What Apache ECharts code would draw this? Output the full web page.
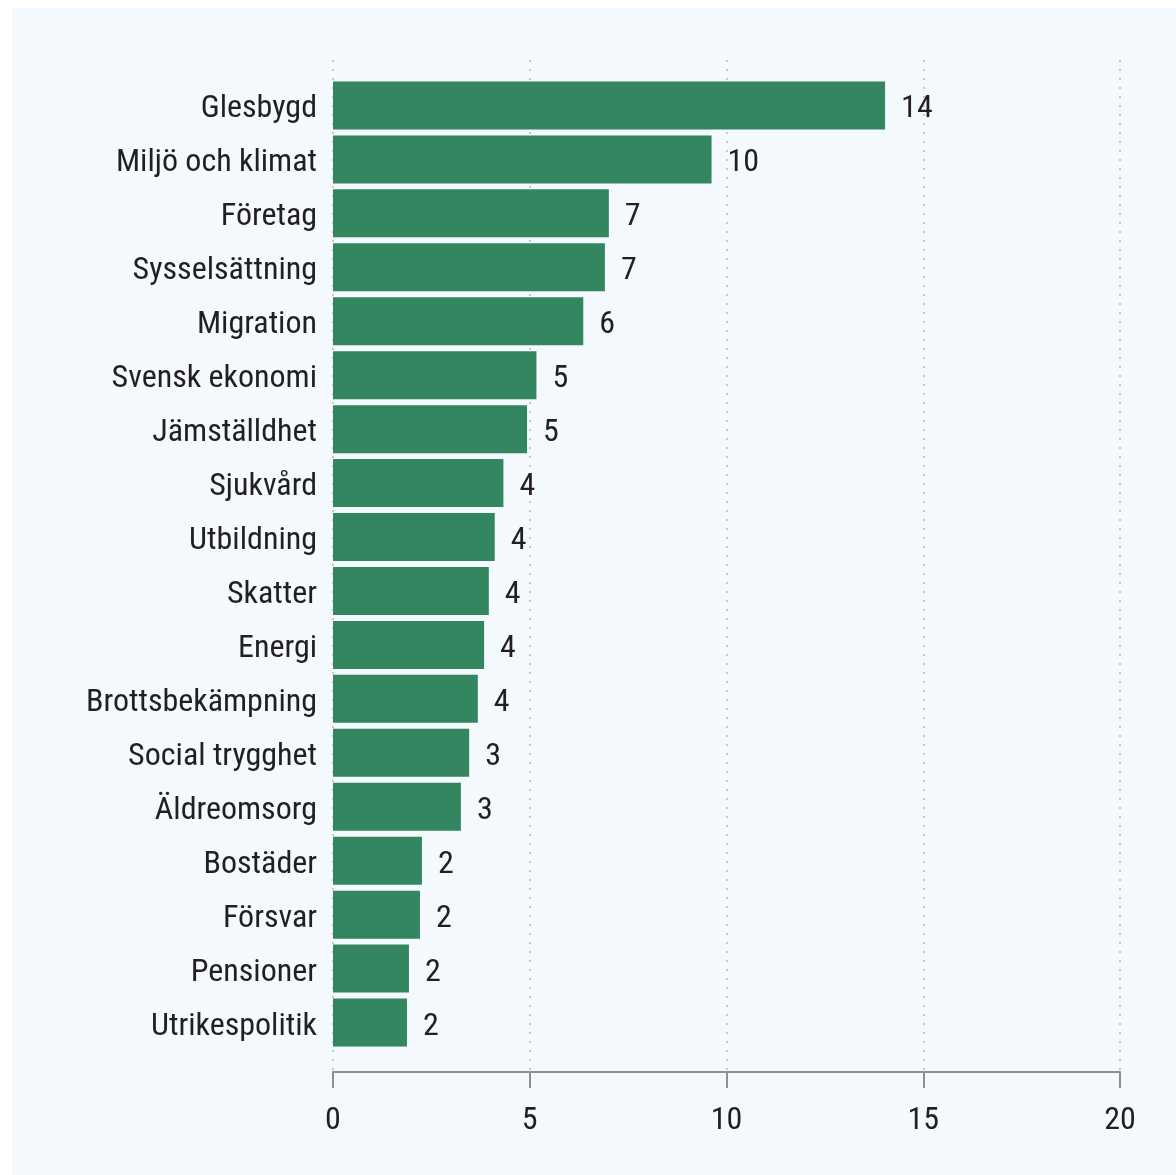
<!DOCTYPE html>
<html>
<head>
<meta charset="utf-8">
<script src="https://cdn.jsdelivr.net/npm/echarts@6/dist/echarts.min.js"></script>
<style>
html,body{margin:0;padding:0;background:#ffffff;}
#chart{width:1176px;height:1175px;}
</style>
</head>
<body>
<div id="chart"></div>
<script>
const categories = ["Glesbygd","Miljö och klimat","Företag","Sysselsättning","Migration","Svensk ekonomi","Jämställdhet","Sjukvård","Utbildning","Skatter","Energi","Brottsbekämpning","Social trygghet","Äldreomsorg","Bostäder","Försvar","Pensioner","Utrikespolitik"];
const values = [14.03, 9.62, 7.01, 6.91, 6.36, 5.17, 4.93, 4.33, 4.11, 3.96, 3.84, 3.68, 3.46, 3.25, 2.26, 2.21, 1.93, 1.88];
const valueLabels = [14, 10, 7, 7, 6, 5, 5, 4, 4, 4, 4, 4, 3, 3, 2, 2, 2, 2];
const axisMin = 0, axisMax = 20, axisStep = 5;

const FONT = "'Roboto Condensed', 'DejaVu Sans Condensed', sans-serif";
const FS = 32;
const TEXT = '#231f20';

const chart = echarts.init(document.getElementById('chart'), null, {renderer: 'canvas'});
chart.setOption({
  backgroundColor: '#ffffff',
  animation: false,
  graphic: [{
    type: 'rect', z: -10, silent: true,
    shape: {x: 12, y: 8, width: 1164, height: 1167},
    style: {fill: '#f3f9fd'}
  }],
  grid: [
    {left: 333, right: 56, top: 78.5, height: 971, containLabel: false},
    {left: 333, right: 56, top: 60, height: 1012, containLabel: false}
  ],
  xAxis: [
    {gridIndex: 0, type: 'value', min: axisMin, max: axisMax, interval: axisStep,
      axisLine: {show: false}, axisTick: {show: false}, axisLabel: {show: false}, splitLine: {show: false}},
    {gridIndex: 1, type: 'value', min: axisMin, max: axisMax, interval: axisStep,
      axisLine: {show: true, lineStyle: {color: '#8f8f8f', width: 2}},
      axisTick: {show: true, length: 16, lineStyle: {color: '#8f8f8f', width: 2}},
      axisLabel: {show: true, margin: 33, fontSize: FS, fontFamily: FONT, color: TEXT},
      splitLine: {show: true, lineStyle: {color: '#b8b8b8', width: 1.5, type: [2, 7]}}}
  ],
  yAxis: [
    {gridIndex: 0, type: 'category', data: categories, inverse: true,
      axisLine: {show: false}, axisTick: {show: false},
      axisLabel: {fontSize: FS, fontFamily: FONT, color: TEXT, margin: 16,
        verticalAlign: 'top', lineHeight: 8}},
    {gridIndex: 1, type: 'value', show: false}
  ],
  series: [{
    type: 'bar',
    xAxisIndex: 0, yAxisIndex: 0,
    data: values,
    barCategoryGap: '11%',
    itemStyle: {color: '#33865f'},
    label: {
      show: true, position: 'right', distance: 16, offset: [0, 4],
      fontSize: FS, fontFamily: FONT, color: TEXT,
      formatter: p => String(valueLabels[p.dataIndex])
    }
  }]
});
</script>
</body>
</html>
